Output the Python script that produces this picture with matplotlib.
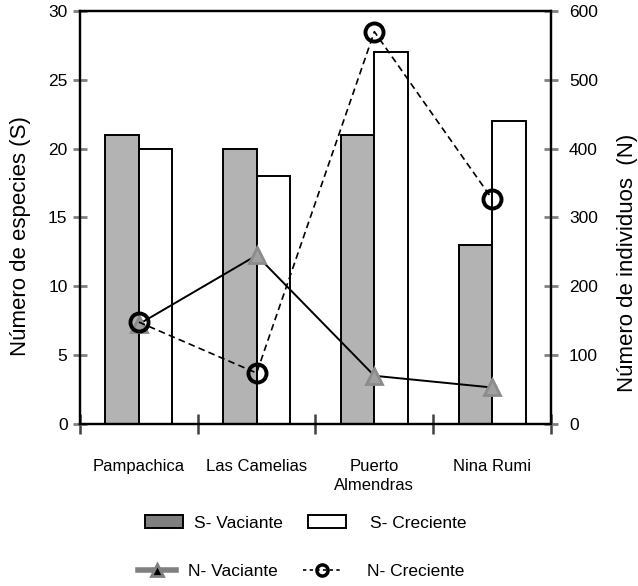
import numpy as np
import matplotlib
matplotlib.use('Agg')
import matplotlib.pyplot as plt
from matplotlib.patches import Patch
from matplotlib.lines import Line2D

plt.rcParams['font.family'] = ['Liberation Sans', 'DejaVu Sans']

# data
sitios = ['Pampachica', 'Las Camelias', 'Puerto\nAlmendras', 'Nina Rumi']
s_vaciante = [21, 20, 21, 13]
s_creciente = [20, 18, 27, 22]
n_vaciante = [145, 245, 70, 53]
n_creciente = [148, 74, 570, 327]

x = np.arange(len(sitios))
w = 0.285
gris = '#b3b3b3'

fig = plt.figure(figsize=(6.38, 5.86), dpi=100)
ax = fig.add_axes([0.1254, 0.2765, 0.7382, 0.7047])
ax2 = ax.twinx()

# bars (species)
ax.bar(x - w / 2, s_vaciante, w, color=gris, edgecolor='black', linewidth=1.4)
ax.bar(x + w / 2, s_creciente, w, color='white', edgecolor='black', linewidth=1.4)
ax.set_xlim(-0.5, 3.5)
ax.set_ylim(0, 30)
ax.set_yticks([0, 5, 10, 15, 20, 25, 30])

# lines (individuals)
ax2.plot(x, n_vaciante, color='black', linewidth=1.4, marker='^', markersize=11,
         markerfacecolor='#a0a0a0', markeredgecolor='#8c8c8c', markeredgewidth=2)
ax2.plot(x, n_creciente, color='black', linewidth=1.2, linestyle=(0, (4, 2.5)), marker='o',
         markersize=13, markerfacecolor='none', markeredgecolor='black', markeredgewidth=2.8)
ax2.set_ylim(0, 600)
ax2.set_yticks([0, 100, 200, 300, 400, 500, 600])

# category separators as ticks, names as minor labels
ax.set_xticks([-0.5, 0.5, 1.5, 2.5, 3.5])
ax.set_xticklabels([])
ax.set_xticks(x, minor=True)
ax.set_xticklabels(sitios, minor=True, fontsize=12, linespacing=1.4)
ax.tick_params(axis='x', which='major', direction='inout', length=14, width=1.8, color='#404040')
ax.tick_params(axis='x', which='minor', length=0, pad=25)

ax.tick_params(axis='y', direction='inout', length=10, width=2, color='#808080',
               labelsize=12.5, pad=4)
ax2.tick_params(axis='y', direction='inout', length=10, width=2, color='#808080',
                labelsize=12.5, pad=8)

for a in (ax, ax2):
    for sp in a.spines.values():
        sp.set_linewidth(1.6)
        sp.set_color('black')

ax.set_ylabel('Número de especies (S)', fontsize=16)
ax.yaxis.set_label_coords(-0.105, 0.455)
ax2.set_ylabel('Número de individuos  (N)', fontsize=16)
ax2.yaxis.set_label_coords(1.14, 0.39)

# legend, one entry at a time to keep the spacing of the original
W, H = 638, 586
entradas = [
    (Patch(facecolor='#7f7f7f', edgecolor='black', linewidth=1.4), 'S- Vaciante', 145, 523, 0.6),
    (Patch(facecolor='white', edgecolor='black', linewidth=1.4), 'S- Creciente', 308, 523, 1.4),
    (Line2D([], [], color='#808080', linewidth=4, marker='^', markersize=8,
            markerfacecolor='black', markeredgecolor='#808080', markeredgewidth=2),
     'N- Vaciante', 138, 571, 0.7),
    (Line2D([], [], color='black', linewidth=1.2, linestyle=(0, (2, 2)), marker='o',
            markersize=8, markerfacecolor='none', markeredgecolor='black', markeredgewidth=2.5),
     'N- Creciente', 303, 571, 1.5),
]
for h, lab, px, py, tp in entradas:
    fig.legend(handles=[h], labels=[lab], loc='center left',
               bbox_to_anchor=(px / W, 1 - py / H), frameon=False, fontsize=12.5,
               borderpad=0, borderaxespad=0, handlelength=2.2, handletextpad=tp)

fig.savefig('out.png', dpi=100)
